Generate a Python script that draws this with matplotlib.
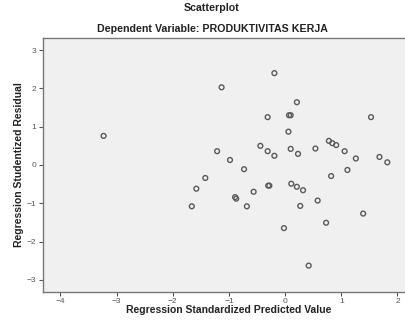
import matplotlib
matplotlib.use("Agg")
import matplotlib.pyplot as plt

plt.rcParams['font.family'] = ['Liberation Sans', 'DejaVu Sans']

predicted = [-3.23, -1.42, -1.58, -1.66, -0.19, -1.13, 0.21, -0.31, 0.07, 0.10,
             1.53, 0.06, 0.78, 0.84, 0.91, -0.44, -1.21, -0.31, -0.19, 0.10,
             0.23, 0.54, 1.06, 1.26, 1.68, 1.82, -0.98, -0.73, 1.11, 0.82,
             -0.30, -0.28, 0.11, 0.21, 0.32, -0.56, -0.89, -0.87, 0.58, -0.68,
             0.27, 1.39, 0.73, -0.02, 0.42]
residual = [0.76, -0.34, -0.62, -1.08, 2.40, 2.03, 1.64, 1.25, 1.30, 1.30,
            1.25, 0.87, 0.63, 0.57, 0.52, 0.50, 0.36, 0.36, 0.24, 0.42,
            0.29, 0.43, 0.36, 0.17, 0.21, 0.07, 0.13, -0.11, -0.13, -0.29,
            -0.54, -0.54, -0.49, -0.57, -0.66, -0.70, -0.84, -0.88, -0.93, -1.08,
            -1.07, -1.27, -1.51, -1.65, -2.63]

xticks = [-4, -3, -2, -1, 0, 1, 2]
yticks = [-3, -2, -1, 0, 1, 2, 3]

fig = plt.figure(figsize=(4.05, 3.27), dpi=100)
ax = fig.add_axes([0.106, 0.107, 0.91, 0.777])
ax.set_facecolor('#F0F0F0')
ax.scatter(predicted, residual, s=12, facecolors='none', edgecolors='#5a5a5a', linewidths=1.0)
ax.set_xlim(-4.31, 2.25)
ax.set_ylim(-3.32, 3.32)
ax.set_xticks(xticks)
ax.set_yticks(yticks)
ax.tick_params(labelsize=6, colors='#555555', length=3, width=0.8)
ax.tick_params(axis='x', pad=1.5)
ax.tick_params(axis='y', pad=2)
for sp in ['top', 'left', 'bottom']:
    ax.spines[sp].set_color('#777777')
    ax.spines[sp].set_linewidth(1.0)
ax.spines['right'].set_visible(False)
ax.set_xlabel('Regression Standardized Predicted Value', fontsize=7.5, fontweight='bold', color='#222222')
ax.set_ylabel('Regression Studentized Residual', fontsize=7.5, fontweight='bold', color='#222222')
ax.xaxis.set_label_coords(0.503, -0.052)
ax.yaxis.set_label_coords(-0.051, 0.5)
fig.text(0.525, 0.911, 'Dependent Variable: PRODUKTIVITAS KERJA', ha='center', va='center',
         fontsize=7.7, fontweight='bold', color='#222222')
fig.text(0.523, 0.966, 'Scatterplot', ha='center', va='baseline',
         fontsize=7.7, fontweight='bold', color='#222222')
fig.savefig('out.png', dpi=100)
